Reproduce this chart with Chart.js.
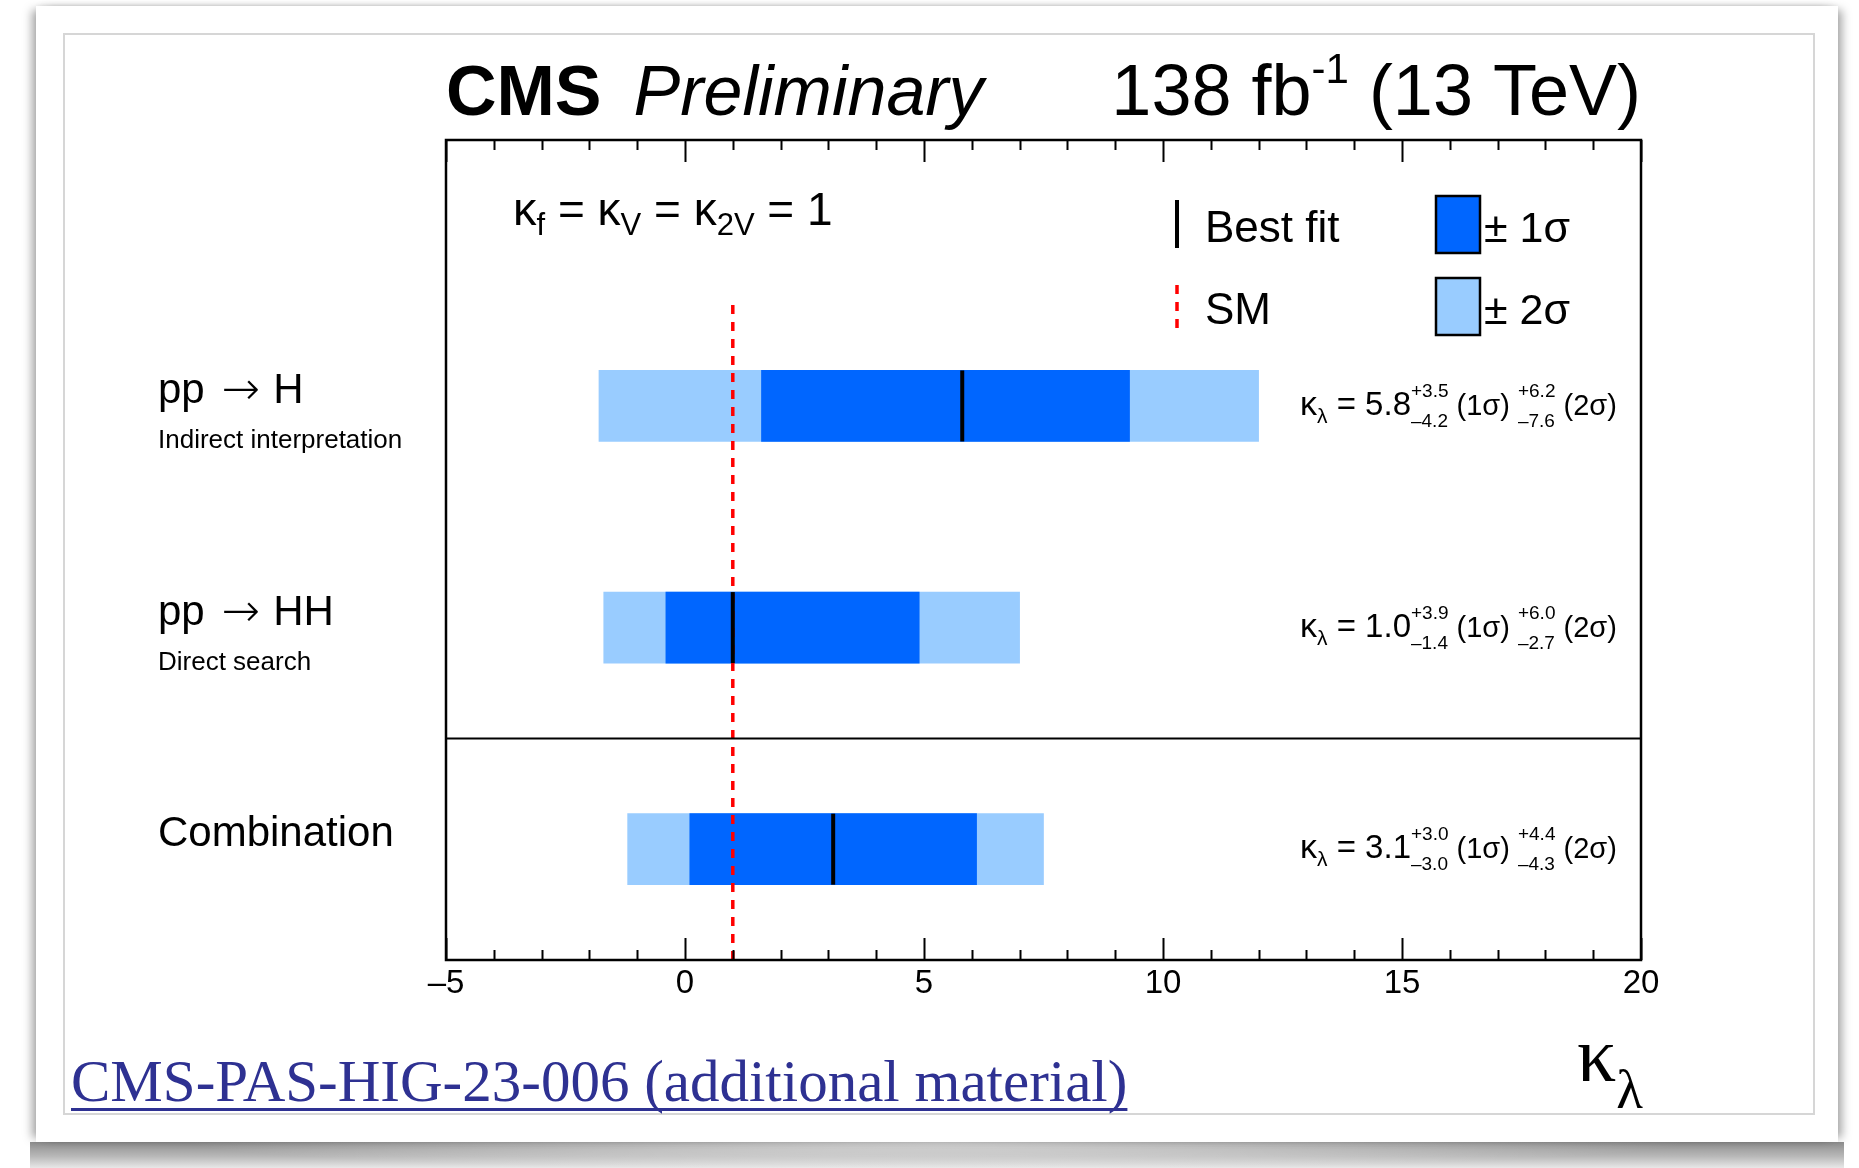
<!DOCTYPE html>
<html>
<head>
<meta charset="utf-8">
<title>CMS kappa_lambda summary</title>
<script src="https://cdn.jsdelivr.net/npm/chart.js@4.4.0/dist/chart.umd.min.js"></script>
<style>
    html, body { margin: 0; padding: 0; background: #fff; }
    body { width: 1859px; height: 1168px; position: relative; overflow: hidden; }
    .card {
        position: absolute; left: 36px; top: 6px; width: 1802px; height: 1136px;
        background: #fff;
        box-shadow: -8px 0 9px -4px rgba(0,0,0,0.35), 8px 0 9px -4px rgba(0,0,0,0.35), 0 -3px 6px -3px rgba(0,0,0,0.12);
    }
    .curl {
        position: absolute; left: 30px; top: 1142px; width: 1814px; height: 26px;
        background:
            radial-gradient(ellipse 55% 140% at 50% 0%, rgba(255,255,255,0.6), rgba(255,255,255,0) 75%),
            linear-gradient(to bottom, #8e8e8e, #b8b8b8 55%, #e8e8e8);
    }
    .sheet {
        position: absolute; left: 63px; top: 33px; width: 1748px; height: 1078px;
        border: 2px solid #d6d6d6;
    }
    #chart { position: absolute; left: 0; top: 0; }
</style>
</head>
<body>
<div class="curl"></div>
<div class="card"></div>
<div class="sheet"></div>
<canvas id="chart" width="1859" height="1168"></canvas>
<script>
const SANS = "'Liberation Sans', Arial, Helvetica, sans-serif";
const SERIF = "'Liberation Serif', 'Times New Roman', serif";
const ARROW_FONT = "'DejaVu Sans', sans-serif";

// rows, top to bottom
const ROW_PROC = ['H', 'HH', ''];
const ROW_LABELS = ['', '', 'Combination'];
const ROW_NOTES = ['Indirect interpretation', 'Direct search', ''];
const ROW_Y = [2.5, 1.5, 0.5];

// kappa_lambda fits
const BEST = [5.8, 1.0, 3.1];
const ERR1_UP = [3.5, 3.9, 3.0];
const ERR1_DN = [4.2, 1.4, 3.0];
const ERR2_UP = [6.2, 6.0, 4.4];
const ERR2_DN = [7.6, 2.7, 4.3];

const SM_VALUE = 1;
const SM_SPAN = [0, 2.98];
const SEPARATOR_Y = 1.0;
const X_TICKS = [-5, 0, 5, 10, 15, 20];

const COLOR_1S = '#0066ff';
const COLOR_2S = '#99ccff';

function setFont(ctx, size, style, family) {
    ctx.font = `${style || ''} ${size}px ${family || SANS}`;
}

function drawText(ctx, s, x, y, size, style) {
    setFont(ctx, size, style);
    ctx.textAlign = 'left';
    ctx.fillText(s, x, y);
    return ctx.measureText(s).width;
}

// draws a run of text pieces; pieces with sup/sub are stacked, gap pieces just advance
function drawRich(ctx, x, y, parts) {
    let cx = x;
    ctx.textAlign = 'left';
    for (const p of parts) {
        if (p.gap) { cx += p.gap; continue; }
        setFont(ctx, p.size, p.style, p.family);
        if (p.sup !== undefined) {
            ctx.fillText(p.sup, cx, y + p.supDy);
            ctx.fillText(p.sub, cx, y + p.subDy);
            cx += Math.max(ctx.measureText(p.sup).width, ctx.measureText(p.sub).width);
        } else {
            ctx.fillText(p.t, cx, y + (p.dy || 0));
            cx += ctx.measureText(p.t).width;
        }
    }
    return cx;
}

const fmtMinus = v => (v < 0 ? '\u2013' + Math.abs(v) : String(v));

const frameAndTicks = {
    id: 'frameAndTicks',
    afterDatasetsDraw(chart) {
        const { ctx, chartArea: a, scales: { x, y } } = chart;
        ctx.save();
        ctx.strokeStyle = '#000';
        ctx.lineWidth = 2;
        for (let v = X_TICKS[0]; v <= X_TICKS[X_TICKS.length - 1]; v++) {
            const px = Math.round(x.getPixelForValue(v)) + 0.5;
            const len = v % 5 === 0 ? 22 : 10;
            ctx.beginPath();
            ctx.moveTo(px, a.bottom); ctx.lineTo(px, a.bottom - len);
            ctx.moveTo(px, a.top); ctx.lineTo(px, a.top + len);
            ctx.stroke();
        }
        const sy = y.getPixelForValue(SEPARATOR_Y);
        ctx.beginPath();
        ctx.moveTo(a.left, sy); ctx.lineTo(a.right, sy);
        ctx.stroke();
        ctx.lineWidth = 2.5;
        ctx.strokeRect(a.left, a.top, a.right - a.left, a.bottom - a.top);
        ctx.restore();
    }
};

const annotations = {
    id: 'annotations',
    afterDraw(chart) {
        const { ctx, chartArea: a, scales: { y } } = chart;
        ctx.save();
        ctx.fillStyle = '#000';
        ctx.textBaseline = 'alphabetic';

        // header
        const w1 = drawText(ctx, 'CMS', a.left, 115, 70, 'bold');
        drawText(ctx, 'Preliminary', a.left + w1 + 32, 115, 70, 'italic');
        setFont(ctx, 72);
        const wa = ctx.measureText('138 fb').width;
        const wc = ctx.measureText(' (13 TeV)').width;
        setFont(ctx, 42);
        const wb = ctx.measureText('-1').width;
        drawRich(ctx, a.right - (wa + wb + wc), 115, [
            { t: '138 fb', size: 72 },
            { t: '-1', size: 42, dy: -32 },
            { t: ' (13 TeV)', size: 72 }
        ]);

        // coupling assumption
        drawRich(ctx, 513, 225, [
            { t: '\u03ba', size: 47 }, { t: 'f', size: 31, dy: 10 },
            { t: ' = \u03ba', size: 46 }, { t: 'V', size: 31, dy: 10 },
            { t: ' = \u03ba', size: 46 }, { t: '2V', size: 31, dy: 10 },
            { t: ' = 1', size: 46 }
        ]);

        // legend
        ctx.strokeStyle = '#000';
        ctx.lineWidth = 4;
        ctx.beginPath(); ctx.moveTo(1177, 200); ctx.lineTo(1177, 248); ctx.stroke();
        ctx.strokeStyle = '#ff0000';
        ctx.lineWidth = 3.5;
        ctx.setLineDash([9, 8]);
        ctx.beginPath(); ctx.moveTo(1177, 285); ctx.lineTo(1177, 335); ctx.stroke();
        ctx.setLineDash([]);
        ctx.strokeStyle = '#000';
        ctx.lineWidth = 2.5;
        ctx.fillStyle = COLOR_1S;
        ctx.fillRect(1436, 196, 44, 57); ctx.strokeRect(1436, 196, 44, 57);
        ctx.fillStyle = COLOR_2S;
        ctx.fillRect(1436, 278, 44, 57); ctx.strokeRect(1436, 278, 44, 57);
        ctx.fillStyle = '#000';
        drawText(ctx, 'Best fit', 1205, 242, 44);
        drawText(ctx, 'SM', 1205, 324, 44);
        drawText(ctx, '\u00b1 1\u03c3', 1484, 242, 43);
        drawText(ctx, '\u00b1 2\u03c3', 1484, 324, 43);

        // row labels and fit results
        ROW_Y.forEach((ry, i) => {
            const cy = y.getPixelForValue(ry);
            if (ROW_PROC[i]) {
                drawRich(ctx, 158, cy - 3, [
                    { t: 'pp', size: 42 },
                    { gap: 17 },
                    { t: '\u2192', size: 46, style: '200', family: ARROW_FONT, dy: 1 },
                    { gap: 13 },
                    { t: ROW_PROC[i], size: 42 }
                ]);
            } else {
                drawText(ctx, ROW_LABELS[i], 158, cy - 3, 42);
            }
            if (ROW_NOTES[i]) drawText(ctx, ROW_NOTES[i], 158, cy + 42, 26);
            drawRich(ctx, 1300, cy + 9, [
                { t: '\u03ba', size: 34 }, { t: '\u03bb', size: 21, dy: 8 },
                { t: ' = ' + BEST[i].toFixed(1), size: 33 },
                { sup: '+' + ERR1_UP[i].toFixed(1), sub: '\u2013' + ERR1_DN[i].toFixed(1), size: 19, supDy: -18, subDy: 12 },
                { t: ' (1\u03c3) ', size: 29 },
                { sup: '+' + ERR2_UP[i].toFixed(1), sub: '\u2013' + ERR2_DN[i].toFixed(1), size: 19, supDy: -18, subDy: 12 },
                { t: ' (2\u03c3)', size: 29 }
            ]);
        });

        // axis title
        drawRich(ctx, 1577, 1081, [
            { t: '\u03ba', size: 78, family: SERIF },
            { t: '\u03bb', size: 55, dy: 27, family: SERIF }
        ]);

        // reference link
        ctx.fillStyle = '#2e3192';
        setFont(ctx, 59, '', SERIF);
        const link = 'CMS-PAS-HIG-23-006 (additional material)';
        ctx.fillText(link, 71, 1101);
        ctx.fillRect(71, 1108, ctx.measureText(link).width, 3);
        ctx.restore();
    }
};

const bars = (lo, hi) => BEST.map((b, i) => ({ x: [b - lo[i], b + hi[i]], y: ROW_Y[i] }));

new Chart(document.getElementById('chart'), {
    type: 'bar',
    data: {
        datasets: [
            {
                type: 'line',
                label: 'SM',
                data: SM_SPAN.map(v => ({ x: SM_VALUE, y: v })),
                borderColor: '#ff0000',
                borderWidth: 3.5,
                borderDash: [9, 8],
                pointRadius: 0,
                fill: false,
                order: 1
            },
            {
                type: 'scatter',
                label: 'Best fit',
                data: BEST.map((b, i) => ({ x: b, y: ROW_Y[i] })),
                pointStyle: 'line',
                rotation: 90,
                pointRadius: 35.5,
                borderColor: '#000',
                borderWidth: 4,
                order: 0
            },
            {
                label: '\u00b1 1\u03c3',
                data: bars(ERR1_DN, ERR1_UP),
                backgroundColor: COLOR_1S,
                barThickness: 71,
                grouped: false,
                order: 2
            },
            {
                label: '\u00b1 2\u03c3',
                data: bars(ERR2_DN, ERR2_UP),
                backgroundColor: COLOR_2S,
                barThickness: 71,
                grouped: false,
                order: 3
            }
        ]
    },
    options: {
        indexAxis: 'y',
        responsive: false,
        devicePixelRatio: 1,
        animation: false,
        events: [],
        layout: { padding: { left: 446, right: 218, top: 140, bottom: 148 } },
        plugins: {
            legend: { display: false },
            tooltip: { enabled: false }
        },
        scales: {
            x: {
                type: 'linear',
                position: 'bottom',
                min: X_TICKS[0],
                max: X_TICKS[X_TICKS.length - 1],
                grid: { display: false, drawTicks: false },
                border: { display: false },
                afterBuildTicks: s => { s.ticks = X_TICKS.map(v => ({ value: v })); },
                afterFit: s => { s.height = 60; },
                ticks: {
                    padding: 4,
                    color: '#000',
                    font: { family: SANS, size: 33 },
                    callback: v => fmtMinus(v)
                }
            },
            y: {
                type: 'linear',
                min: 0,
                max: 3.7,
                offset: false,
                display: false
            }
        }
    },
    plugins: [frameAndTicks, annotations]
});
</script>
</body>
</html>
